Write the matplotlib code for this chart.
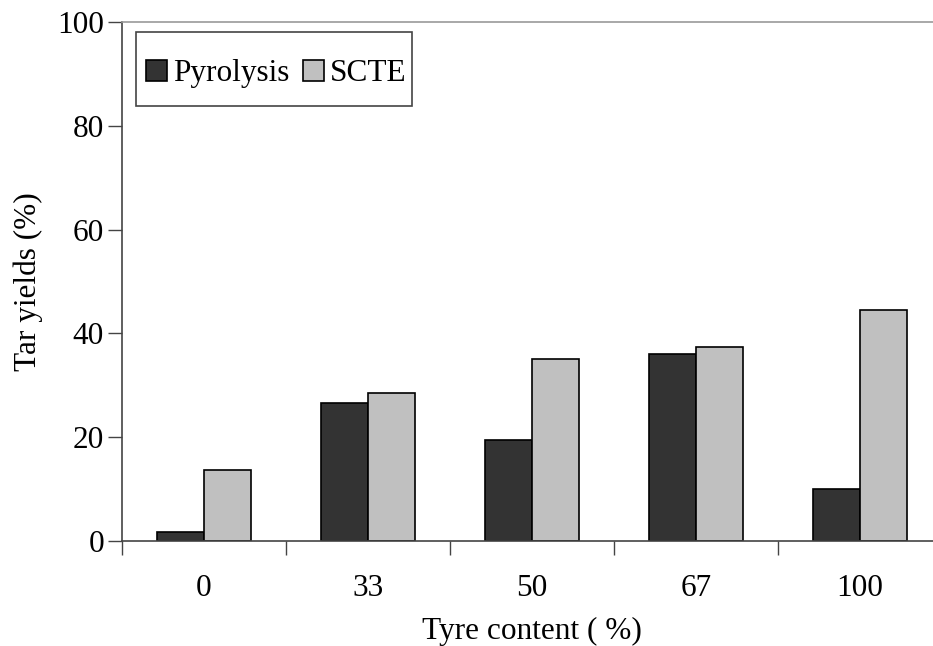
import numpy as np
import matplotlib
matplotlib.use("Agg")
import matplotlib.pyplot as plt
from matplotlib.patches import Rectangle

categories = ["0", "33", "50", "67", "100"]
pyrolysis = [1.8, 26.6, 19.5, 36.1, 10.0]
scte = [13.6, 28.5, 35.1, 37.4, 44.5]

plt.rcParams["font.family"] = ["Liberation Serif", "DejaVu Serif"]
plt.rcParams["font.size"] = 22.5

fig = plt.figure(figsize=(9.33, 6.46), dpi=100)
W, H = 933, 646
ax = fig.add_axes([122 / W, (H - 541) / H, (942 - 122) / W, (541 - 22) / H])

x = np.arange(len(categories))
w = 0.286
ax.bar(x - w / 2, pyrolysis, w, color="#333333", edgecolor="black", linewidth=1.2, label="Pyrolysis")
ax.bar(x + w / 2, scte, w, color="#c0c0c0", edgecolor="black", linewidth=1.2, label="SCTE")

ax.set_xlim(-0.5, len(categories) - 0.5)
ax.set_ylim(0, 100)
ax.set_yticks([0, 20, 40, 60, 80, 100])
# category boundaries as major ticks, labels on minor ticks at centres
ax.set_xticks(np.arange(-0.5, len(categories)))
ax.set_xticklabels([])
ax.set_xticks(x, minor=True)
ax.set_xticklabels(categories, minor=True)
ax.tick_params(axis="x", which="major", direction="out", length=10, width=1, color="#444444")
ax.tick_params(axis="x", which="minor", length=0, pad=24)
ax.tick_params(axis="y", direction="out", length=10, width=1, color="#444444", pad=3)

for s in ["left", "bottom"]:
    ax.spines[s].set_color("#444444")
    ax.spines[s].set_linewidth(1.2)
ax.spines["top"].set_color("#999999")
ax.spines["top"].set_linewidth(1.2)
ax.spines["right"].set_visible(False)

ax.set_xlabel("Tyre content ( %)", labelpad=10)
ax.set_ylabel("Tar yields (%)", labelpad=10)

# legend box drawn separately so its padding matches the original
ax.add_patch(Rectangle((0.0171, 0.838), 0.3366, 0.143, transform=ax.transAxes,
                       facecolor="white", edgecolor="#444444", linewidth=1.2, zorder=4))
leg = ax.legend(loc="center", bbox_to_anchor=(0.1885, 0.900), ncol=2, frameon=False,
                handlelength=0.66, handleheight=0.66, handletextpad=0.2, columnspacing=0.45,
                borderpad=0, borderaxespad=0)
leg.set_zorder(5)

fig.savefig("out.png", dpi=100)
